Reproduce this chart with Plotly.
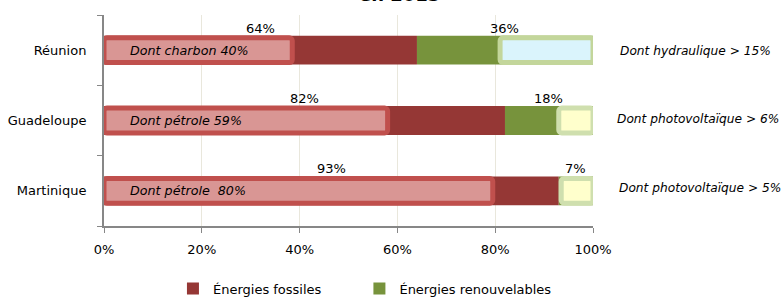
import plotly.graph_objects as go

# ---- data ----
regions = ["Réunion", "Guadeloupe", "Martinique"]
fossiles = [64, 82, 93]
renouvelables = [36, 18, 7]
fossil_detail_labels = ["Dont charbon 40%", "Dont pétrole 59%", "Dont pétrole  80%"]
fossil_detail_extent = [38.5, 58, 79.5]
renew_detail_labels = ["Dont hydraulique > 15%", "Dont photovoltaïque > 6%", "Dont photovoltaïque > 5%"]
renew_detail_extent = [19, 7, 6.5]
x_ticks = [0, 20, 40, 60, 80, 100]
x_tick_labels = ["0%", "20%", "40%", "60%", "80%", "100%"]
title_text = "en 2013"

FONT = "DejaVu Sans"
BAR_W = 0.41
NBSP = "\u00a0"

fig = go.Figure()
fig.add_trace(go.Bar(
    y=regions, x=fossiles, base=[0] * len(regions), orientation="h",
    name="Énergies fossiles" + NBSP * 8, width=BAR_W,
    marker=dict(color="#953735", line=dict(width=0)),
))
fig.add_trace(go.Bar(
    y=regions, x=renouvelables, base=fossiles, orientation="h",
    name="Énergies renouvelables", width=BAR_W,
    marker=dict(color="#77933C", line=dict(width=0)),
))
# detail boxes (fossil)
fig.add_trace(go.Bar(
    y=regions, x=fossil_detail_extent, base=[0] * len(regions), orientation="h",
    showlegend=False, width=BAR_W * 0.86, hoverinfo="skip",
    marker=dict(color="#D99694", line=dict(color="#C0504D", width=5), cornerradius=3),
))
# detail boxes (renewables)
fig.add_trace(go.Bar(
    y=regions, x=renew_detail_extent,
    base=[100 - e for e in renew_detail_extent], orientation="h",
    showlegend=False, width=BAR_W * 0.86, hoverinfo="skip",
    marker=dict(color=["#DAF4FC", "#FFFFCC", "#FFFFCC"],
                line=dict(color=["#C3D69B", "#CFDFAE", "#CFDFAE"], width=5),
                cornerradius=3),
))

ann = []
for r, f, rn in zip(regions, fossiles, renouvelables):
    ann.append(dict(x=f / 2, y=r, xref="x", yref="y", text=f"{f}%", showarrow=False,
                    yshift=22, font=dict(size=13, color="#000", family=FONT)))
    ann.append(dict(x=f + rn / 2, y=r, xref="x", yref="y", text=f"{rn}%", showarrow=False,
                    yshift=22, font=dict(size=13, color="#000", family=FONT)))
for r, t in zip(regions, fossil_detail_labels):
    ann.append(dict(x=4.9, y=r, xref="x", yref="y", text=f"<i>{t}</i>", showarrow=False,
                    xanchor="left", font=dict(size=12.7, color="#000", family=FONT)))
for r, t, ys, xs in zip(regions, renew_detail_labels, [-1, 2, 3], [1.051, 1.045, 1.049]):
    ann.append(dict(x=xs, y=r, xref="paper", yref="y", text=f"<i>{t}</i>", showarrow=False,
                    xanchor="left", yshift=ys, font=dict(size=12.2, color="#000", family=FONT)))
ann.append(dict(x=0.605, y=1.037, xref="paper", yref="paper", text=f"<b>{title_text}</b>",
                showarrow=False, xanchor="center", yanchor="bottom",
                font=dict(size=18, color="#000", family=FONT)))

fig.update_layout(
    width=783, height=297,
    margin=dict(l=104, r=190, t=15, b=71, autoexpand=False),
    paper_bgcolor="white", plot_bgcolor="white",
    barmode="overlay",
    font=dict(family=FONT, size=13, color="#000"),
    annotations=ann,
    showlegend=True,
    legend=dict(orientation="h", x=0.141, xanchor="left", y=-0.297, yanchor="middle",
                font=dict(size=13, family=FONT, color="#000"),
                itemclick=False, bgcolor="rgba(0,0,0,0)"),
    xaxis=dict(range=[0, 100], tickvals=x_ticks, ticktext=x_tick_labels,
               showgrid=True, gridcolor="#E9E7DC", gridwidth=1,
               showline=True, linecolor="#878787", linewidth=2,
               ticks="outside", ticklen=5, tickcolor="#878787", tickwidth=1,
               ticklabelstandoff=5,
               zeroline=False, fixedrange=True, automargin=False),
    yaxis=dict(categoryorder="array", categoryarray=list(reversed(regions)),
               range=[-0.5, 2.5], showgrid=False,
               showline=True, linecolor="#878787", linewidth=2,
               ticks="outside", tickson="boundaries", ticklen=5,
               tickcolor="#878787", tickwidth=1, ticklabelstandoff=13,
               zeroline=False, fixedrange=True, automargin=False),
)

fig.write_html("out.html", config={"displayModeBar": False},
               post_script=["document.body.style.margin='0';"])
